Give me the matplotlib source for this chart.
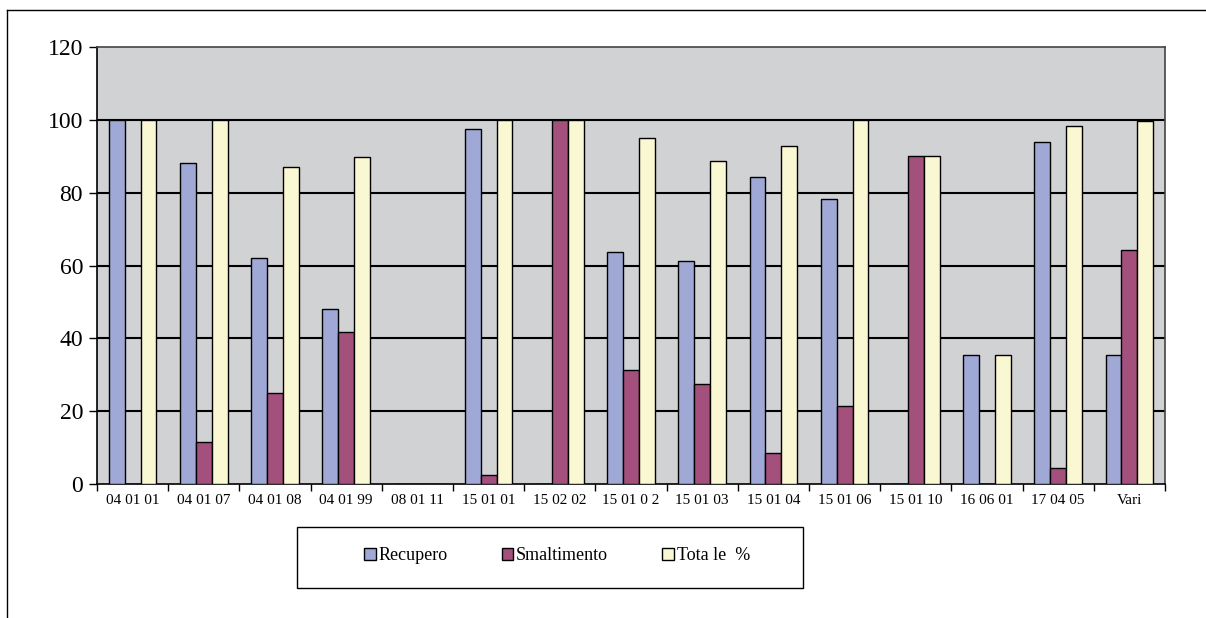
import matplotlib
matplotlib.use('Agg')
import matplotlib.pyplot as plt
from matplotlib.lines import Line2D
from matplotlib.patches import Rectangle
import numpy as np

plt.rcParams['font.family'] = ['Liberation Serif', 'DejaVu Serif']

# categorie (codici CER) e valori percentuali
categorie = ['04 01 01', '04 01 07', '04 01 08', '04 01 99', '08 01 11',
             '15 01 01', '15 02 02', '15 01 0 2', '15 01 03', '15 01 04',
             '15 01 06', '15 01 10', '16 06 01', '17 04 05', 'Vari']
recupero = [100, 88.2, 62.1, 48.0, 0, 97.4, 0, 63.7, 61.1, 84.4, 78.3, 0, 35.3, 94.0, 35.5]
smaltimento = [0, 11.6, 24.9, 41.8, 0, 2.6, 100, 31.2, 27.5, 8.4, 21.5, 90.2, 0, 4.3, 64.3]
totale = [100, 100, 87.1, 89.8, 0, 100, 100, 94.9, 88.6, 92.8, 100, 90.2, 35.3, 98.3, 99.8]

nomi = ['Recupero', 'Smaltimento', 'Tota le  %']
colori = ['#A0A8D6', '#A3507D', '#FAF7D3']

fig = plt.figure(figsize=(12.06, 6.18), dpi=100)
ax = fig.add_axes([97 / 1206, 1 - 484 / 618, 1068 / 1206, 437 / 618])
ax.set_facecolor('#D1D2D4')

x = np.arange(len(categorie))
w = 1 / 4.5
for k, serie in enumerate([recupero, smaltimento, totale]):
    ax.bar(x + (k - 1) * w, serie, width=w, color=colori[k], edgecolor='black',
           linewidth=1.0, zorder=3, label=nomi[k])

ax.set_xlim(-0.5, len(categorie) - 0.5)
ax.set_ylim(0, 120)
ax.set_yticks(range(0, 121, 20))
ax.tick_params(axis='y', labelsize=17, direction='out', length=6, width=1, pad=4)
for yv in range(20, 101, 20):
    ax.axhline(yv, color='black', linewidth=1.5, zorder=1)

ax.set_xticks(x)
ax.set_xticklabels(categorie, fontsize=11)
ax.tick_params(axis='x', which='major', length=0, pad=7)
ax.set_xticks(np.arange(-0.5, len(categorie)), minor=True)
ax.tick_params(axis='x', which='minor', length=5, width=1, direction='out')

for s in ['left', 'bottom']:
    ax.spines[s].set_color('black')
    ax.spines[s].set_linewidth(1.2)
for s in ['top', 'right']:
    ax.spines[s].set_color('#444444')
    ax.spines[s].set_linewidth(1.2)

# riquadro della legenda
fig.patches.append(Rectangle((297 / 1206, 1 - 588 / 618), 506 / 1206, 61 / 618,
                             transform=fig.transFigure, facecolor='white',
                             edgecolor='black', linewidth=1.0))
handles = [Rectangle((0, 0), 1, 1, facecolor=c, edgecolor='black', linewidth=1.0) for c in colori]
fig.legend(handles, nomi, loc='center', bbox_to_anchor=(557 / 1206, 1 - 556 / 618),
           ncol=3, frameon=False, fontsize=13, handlelength=0.65, handleheight=0.65,
           handletextpad=0.15, columnspacing=3.0)

# cornice esterna (solo lati sinistro e superiore visibili)
fig.lines.append(Line2D([7 / 1206, 7 / 1206], [0, 1 - 10 / 618], transform=fig.transFigure,
                        color='black', linewidth=1.0))
fig.lines.append(Line2D([7 / 1206, 1], [1 - 10 / 618, 1 - 10 / 618], transform=fig.transFigure,
                        color='black', linewidth=1.0))

fig.savefig('out.png', dpi=100)
